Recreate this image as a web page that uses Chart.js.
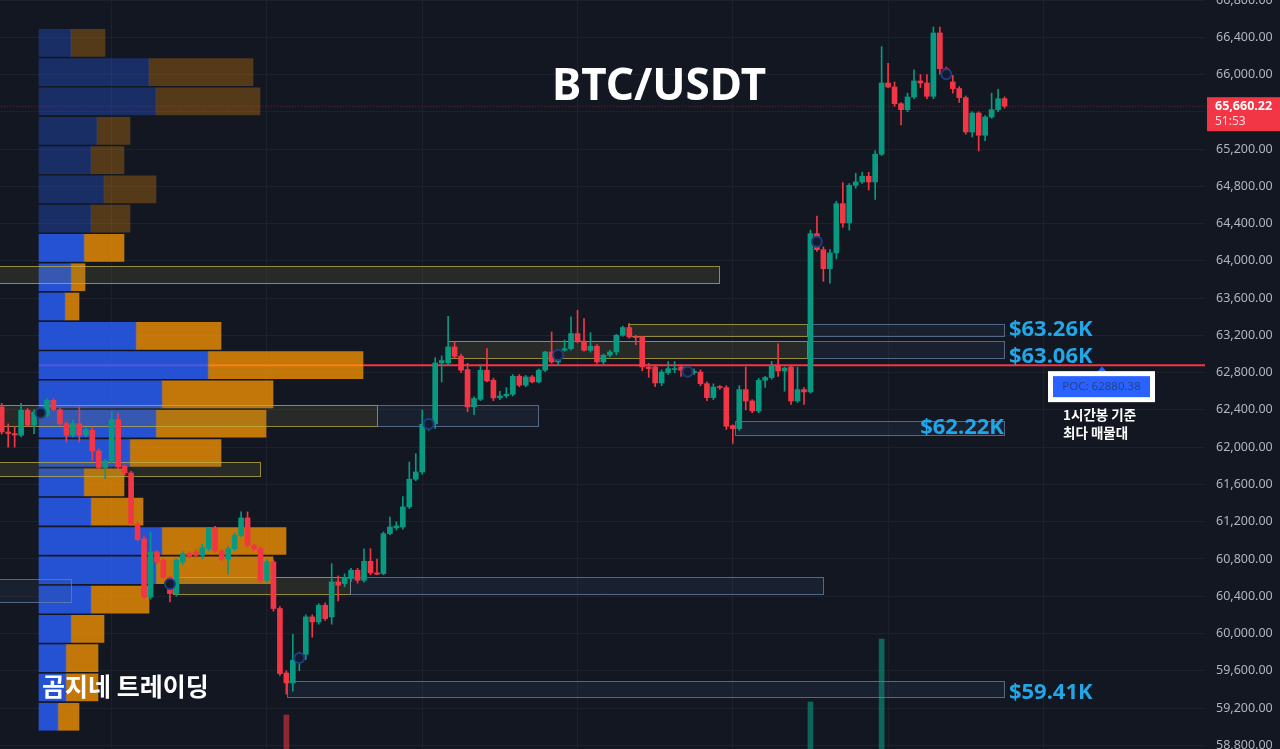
<!DOCTYPE html>
<html><head><meta charset="utf-8">
<script src="https://cdn.jsdelivr.net/npm/chart.js@4.4.0/dist/chart.umd.min.js"></script>
<style>html,body{margin:0;padding:0;background:#131722;overflow:hidden}#wrap{width:1280px;height:749px}</style>
</head><body><div id="wrap"><canvas id="c" width="1280" height="749"></canvas></div>
<script>
// ---------- DATA ----------
const opens = [62432,62163,62146,62128,62396,62235,62378,62340,62503,62403,
62253,62128,62253,62128,62181,61959,61781,61852,62296,61795,
61723,61172,61015,60392,60875,60786,60607,60428,60768,60857,
60875,60840,60911,61126,60886,60797,60911,61054,61240,60947,
60911,60571,60768,60268,59576,59469,59713,59777,60178,60124,
60303,60178,60554,60536,60590,60679,60571,60775,60650,60643,
61072,61133,61144,61359,61656,61734,62246,62250,62904,62904,
63076,62976,62833,62432,62514,62826,62718,62529,62550,62568,
62761,62665,62754,62700,62826,63022,62915,63040,63058,63219,
63140,63040,63083,62915,62987,63022,63201,63284,63183,63183,
62861,62861,62689,62800,62833,62861,62825,62800,62807,62682,
62532,62646,62639,62231,62199,62618,62496,62389,62718,62747,
62879,62818,62861,62496,62618,62593,64292,64120,63916,64085,
64614,64407,64811,64847,64908,64847,65144,65909,65866,65687,
65623,65759,65931,65909,65766,66446,66063,65920,65849,65752,
65383,65587,65348,65544,65623,65741];
const closes = [62163,62146,62130,62396,62235,62378,62340,62503,62403,62253,
62128,62253,62128,62188,61959,61781,61852,62296,61788,61723,
61180,61008,60392,60875,60768,60607,60428,60786,60857,60829,
60840,60922,61126,60886,60797,60911,61054,61240,60947,60911,
60571,60768,60268,59570,59469,59713,59770,60178,60124,60303,
60160,60554,60518,60600,60679,60571,60775,60650,60636,61072,
61144,61155,61359,61656,61734,62246,62270,62904,62930,63076,
62976,62826,62432,62522,62826,62711,62529,62550,62568,62761,
62665,62754,62700,62826,63022,62915,62990,63058,63219,63140,
63040,63083,62915,62987,63022,63201,63284,63183,63176,62861,
62843,62689,62807,62843,62843,62825,62815,62815,62682,62532,
62646,62640,62224,62199,62618,62496,62389,62718,62747,62879,
62818,62850,62496,62618,62593,64292,64120,63916,64085,64614,
64407,64811,64847,64908,64847,65144,65909,65866,65687,65623,
65759,65931,65909,65766,66446,66063,66045,65849,65752,65383,
65587,65348,65544,65623,65741,65660.22];
const highs = [62470,62250,62220,62470,62415,62400,62420,62521,62521,62420,
62270,62290,62432,62210,62217,61980,61870,62378,62360,61810,
61740,61200,61040,61090,60890,60800,60620,60800,60880,60880,
60900,60960,61140,61150,60900,60930,61080,61305,61305,60960,
60930,60790,60790,60290,59600,59990,59800,60200,60200,60320,
60330,60750,60620,60640,60700,60700,60910,60910,60800,61090,
61250,61200,61470,61840,61930,62400,62300,62960,62980,63405,
63130,63000,62900,62540,62880,63058,62740,62600,62640,62780,
62780,62770,62770,62840,63030,63237,63050,63150,63400,63470,
63380,63230,63100,63000,63040,63210,63300,63330,63200,63190,
62900,62880,62830,62920,62920,62880,62880,62840,62830,62700,
62680,62660,62660,62240,62660,62860,62510,62740,62760,62920,
63110,62860,62870,62860,62640,64330,64480,64150,64120,64640,
64840,64830,64940,64950,64950,65180,66300,66120,65920,65700,
65800,66050,66000,66000,66510,66510,66080,65990,65870,65770,
65600,65600,65560,65800,65840,65760];
const lows = [62140,62000,62000,62110,62220,62146,62320,62324,62390,62240,
62056,62110,62056,62110,61859,61760,61663,61830,61770,61700,
61160,60990,60370,60370,60750,60590,60339,60400,60740,60810,
60820,60800,60890,60870,60780,60640,60890,61040,60930,60890,
60550,60550,60240,59550,59350,59380,59600,59720,59960,60100,
60140,60100,60350,60500,60560,60540,60550,60630,60630,60630,
61060,61110,61120,61340,61640,61710,62180,62200,62700,62880,
62960,62800,62380,62350,62500,62700,62500,62510,62530,62550,
62650,62650,62690,62690,62810,62900,62880,63030,63040,63120,
63030,63020,62900,62890,62970,62990,63190,63170,63100,62820,
62750,62650,62660,62780,62800,62760,62790,62780,62660,62500,
62510,62620,62190,62040,62180,62400,62370,62370,62640,62730,
62760,62600,62460,62480,62460,62580,64100,63780,63760,64020,
64360,64330,64780,64830,64760,64660,65130,65860,65660,65460,
65600,65740,65860,65740,65740,66000,65990,65800,65700,65360,
65330,65180,65290,65530,65600,65640];

// volume (only the bars that rise into view)
const volIdx = [44, 125, 136];
const volValues = [999, 1380, 3230];

// volume profile rows (price centre of each row), buy / sell volume
const profilePrices = [66340,66025,65711,65396,65082,64767,64453,64139,63824,63510,63195,62880,
62566,62251,61937,61622,61308,60993,60679,60364,60050,59735,59421,59106];
const profileBuy  = [32,110,117,58,52,65,52,45,32,26,97,169,123,117,91,45,52,123,117,52,32,27,27,19];
const profileSell = [34,104,104,33,33,52,39,40,14,14,85,155,111,110,91,40,52,124,117,58,33,32,32,21];
const valueAreaFrom = 7; // rows from this index on are inside the value area

const pocPrice = 62880.38;
const lastPrice = 65660.22;
const lastTimer = '51:53';

// y-axis tick labels
const priceTicks = [58800,59200,59600,60000,60400,60800,61200,61600,62000,62400,62800,
63200,63600,64000,64400,64800,65200,65600,66000,66400,66800];
// daily time grid (candle index)
const timeGridIdx = [17,41,65,89,113,137,161];

// pivot markers
const markerIdx = [6,26,46,66,86,106,126,146];
const markerPrice = [62367,60531,59737,62249,62989,62810,64206,66002];

// zone boxes (candle index range, price range)
const boxStart  = [-5,96.8,124.5,69,124.5,-5,58,113.3,-5,-5,26.5,53.8,44.1];
const boxEnd    = [110.9,124.5,154.9,124.5,154.9,58,82.9,154.9,39.9,10.7,53.8,126.9,154.9];
const boxTop    = [63945,63322,63322,63140,63140,62453,62453,62281,61841,60585,60606,60606,59490];
const boxBottom = [63762,63193,63193,62957,62957,62227,62227,62131,61691,60338,60424,60424,59318];
const boxKind   = ['y','y','b','y','b','y','b','b','y','b','y','b','b'];

const levelText  = ['$63.26K','$63.06K','$62.22K','$59.41K'];
const levelPrice = [63260,63060,62220,59410];

// ---------- STYLE ----------
const UP = '#089981', DOWN = '#f23645';
const candleColors = closes.map((c,i)=> c >= opens[i] ? UP : DOWN);

const boxPlugin = {
  id: 'boxes',
  beforeDatasetDraw(chart, args) {
    if (chart.data.datasets[args.index].label !== 'wicks') return;
    const {ctx, chartArea: a, scales: {x, y}} = chart;
    ctx.save();
    ctx.beginPath(); ctx.rect(a.left, a.top, a.width, a.height); ctx.clip();
    for (let k = 0; k < boxStart.length; k++) {
      const x0 = Math.round(x.getPixelForValue(boxStart[k])) + 0.5;
      const x1 = Math.round(x.getPixelForValue(boxEnd[k])) + 0.5;
      const y0 = Math.round(y.getPixelForValue(boxTop[k])) + 0.5;
      const y1 = Math.round(y.getPixelForValue(boxBottom[k])) + 0.5;
      if (boxKind[k] === 'y') {
        ctx.fillStyle = 'rgba(120,115,60,0.22)';
        ctx.strokeStyle = 'rgba(190,175,70,0.75)';
      } else {
        ctx.fillStyle = 'rgba(60,85,125,0.16)';
        ctx.strokeStyle = 'rgba(105,130,165,0.75)';
      }
      ctx.fillRect(x0, y0, x1 - x0, y1 - y0);
      ctx.lineWidth = 1;
      ctx.strokeRect(x0, y0, x1 - x0, y1 - y0);
    }
    ctx.restore();
  }
};

const textPlugin = {
  id: 'texts',
  afterDatasetsDraw(chart) {
    const {ctx, scales: {x, y}} = chart;
    ctx.save();
    ctx.textBaseline = 'middle';
    // title
    ctx.fillStyle = '#ffffff';
    ctx.textAlign = 'center';
    ctx.font = 'bold 44px "Noto Sans", sans-serif';
    ctx.fillText('BTC/USDT', 659, 87);
    // watermark
    ctx.textAlign = 'left';
    ctx.font = 'bold 25px "Noto Sans CJK KR", sans-serif';
    ctx.fillText('곰지네 트레이딩', 42, 686);
    // level labels
    const offs = [0, 8, 1, 4];
    ctx.font = 'bold 22px "Noto Sans", sans-serif';
    ctx.fillStyle = '#22a6e6';
    for (let k = 0; k < levelText.length; k++) {
      const py = y.getPixelForValue(levelPrice[k]) + offs[k];
      const bx = x.getPixelForValue(154.9);
      if (k === 2) { ctx.textAlign = 'right'; ctx.fillText(levelText[k], bx, py); }
      else { ctx.textAlign = 'left'; ctx.fillText(levelText[k], bx + 5, py); }
    }
    // POC label
    const pp = y.getPixelForValue(pocPrice);
    const cx = 1102;
    ctx.fillStyle = '#2962ff';
    ctx.beginPath(); ctx.moveTo(cx, pp + 1); ctx.lineTo(cx - 5, pp + 7); ctx.lineTo(cx + 5, pp + 7); ctx.closePath(); ctx.fill();
    ctx.fillStyle = '#ffffff';
    ctx.fillRect(1048, pp + 6, 107, 31);
    ctx.fillStyle = '#2962ff';
    ctx.fillRect(1053, pp + 11, 97, 21);
    ctx.fillStyle = '#26418f';
    ctx.textAlign = 'center';
    ctx.font = '11.5px "Noto Sans", sans-serif';
    ctx.fillText('POC: 62880.38', 1101.5, pp + 22);
    ctx.fillStyle = '#ffffff';
    ctx.textAlign = 'left';
    ctx.font = 'bold 13.5px "Noto Sans CJK KR", sans-serif';
    ctx.fillText('1시간봉 기준', 1063, pp + 50);
    ctx.fillText('최다 매물대', 1063, pp + 68);
    // last price tag
    const lp = y.getPixelForValue(lastPrice);
    ctx.fillStyle = DOWN;
    ctx.fillRect(1207, lp - 9, 73, 34);
    ctx.fillStyle = '#ffffff';
    ctx.font = 'bold 12.5px "Noto Sans", sans-serif';
    ctx.fillText(lastPrice.toLocaleString('en-US', {minimumFractionDigits: 2}), 1215, lp);
    ctx.fillStyle = 'rgba(255,235,238,0.9)';
    ctx.font = '12px "Noto Sans", sans-serif';
    ctx.fillText(lastTimer, 1215, lp + 15);
    ctx.restore();
  }
};

const profileRows = profilePrices.map((p, i) => i);
const ds = [
  { type: 'line', label: 'poc', xAxisID: 'xp', yAxisID: 'y', order: 10,
    data: [{x: 0, y: pocPrice}, {x: 1200, y: pocPrice}],
    borderColor: '#f23645', borderWidth: 2, pointRadius: 0 },
  { type: 'line', label: 'last', xAxisID: 'x', yAxisID: 'y', order: 9,
    data: [{x: -1, y: lastPrice}, {x: 190, y: lastPrice}],
    borderColor: 'rgba(242,54,69,0.45)', borderWidth: 1, borderDash: [1, 2], pointRadius: 0 },
  { type: 'bar', label: 'sell', indexAxis: 'y', xAxisID: 'xp', yAxisID: 'y', order: 6,
    data: profileRows.map(i => ({y: profilePrices[i], x: [profileBuy[i], profileBuy[i] + profileSell[i]]})),
    backgroundColor: profileRows.map(i => i < valueAreaFrom ? 'rgba(255,152,0,0.28)' : 'rgba(255,152,0,0.75)'),
    barThickness: 27, grouped: false },
  { type: 'bar', label: 'buy', indexAxis: 'y', xAxisID: 'xp', yAxisID: 'y', order: 5,
    data: profileRows.map(i => ({y: profilePrices[i], x: [0, profileBuy[i]]})),
    backgroundColor: profileRows.map(i => i < valueAreaFrom ? 'rgba(41,98,255,0.3)' : 'rgba(41,98,255,0.8)'),
    barThickness: 27, grouped: false },
  { type: 'bar', label: 'volume', xAxisID: 'x', yAxisID: 'yv', order: 4,
    data: volIdx.map((i, k) => ({x: i, y: volValues[k]})),
    backgroundColor: volIdx.map(i => closes[i] >= opens[i] ? 'rgba(8,153,129,0.6)' : 'rgba(242,54,69,0.55)'),
    barThickness: 5, grouped: false },
  { type: 'bar', label: 'wicks', xAxisID: 'x', yAxisID: 'y', order: 3,
    data: closes.map((c, i) => ({x: i, y: [lows[i], highs[i]]})),
    backgroundColor: candleColors, barThickness: 1, grouped: false },
  { type: 'bar', label: 'bodies', xAxisID: 'x', yAxisID: 'y', order: 2,
    data: closes.map((c, i) => ({x: i, y: [opens[i], c]})),
    backgroundColor: candleColors, barThickness: 5, minBarLength: 1, grouped: false },
  { type: 'line', label: 'markers', xAxisID: 'x', yAxisID: 'y', order: 1, showLine: false,
    data: markerIdx.map((i, k) => ({x: i, y: markerPrice[k]})),
    pointRadius: 5, pointBackgroundColor: '#151b2e', pointBorderColor: '#1f3c80', pointBorderWidth: 2 }
];

const gridColor = '#1d212c';
new Chart(document.getElementById('c'), {
  type: 'bar',
  data: { datasets: ds },
  plugins: [boxPlugin, textPlugin],
  options: {
    responsive: false, animation: false, devicePixelRatio: 1, events: [],
    layout: { padding: 0, autoPadding: false },
    plugins: { legend: { display: false }, tooltip: { enabled: false } },
    scales: {
      x: { type: 'linear', position: 'bottom', min: -0.263, max: 185.98, offset: false,
        grid: { color: gridColor, offset: false, drawTicks: false }, border: { display: false },
        ticks: { display: false },
        afterBuildTicks: s => { s.ticks = timeGridIdx.map(v => ({value: v})); },
        afterFit: s => { s.height = 0; s.paddingLeft = 0; s.paddingRight = 0; } },
      xp: { type: 'linear', display: false, min: -39, max: 1166, offset: false, grid: { offset: false } },
      y: { type: 'linear', position: 'right', min: 58760, max: 66800, beginAtZero: false, offset: false,
        grid: { color: gridColor, drawTicks: false, offset: false }, border: { display: false },
        ticks: { color: '#b2b5be', padding: 11, font: { family: '"Noto Sans", sans-serif', size: 12.5 },
          callback: v => Number(v).toLocaleString('en-US', {minimumFractionDigits: 2, maximumFractionDigits: 2}) },
        afterBuildTicks: s => { s.ticks = priceTicks.map(v => ({value: v})); },
        afterFit: s => { s.width = 75; s.paddingTop = 0; s.paddingBottom = 0; } },
      yv: { type: 'linear', display: false, min: 0, max: 22000, beginAtZero: true, offset: false }
    }
  }
});
</script>
</body></html>
